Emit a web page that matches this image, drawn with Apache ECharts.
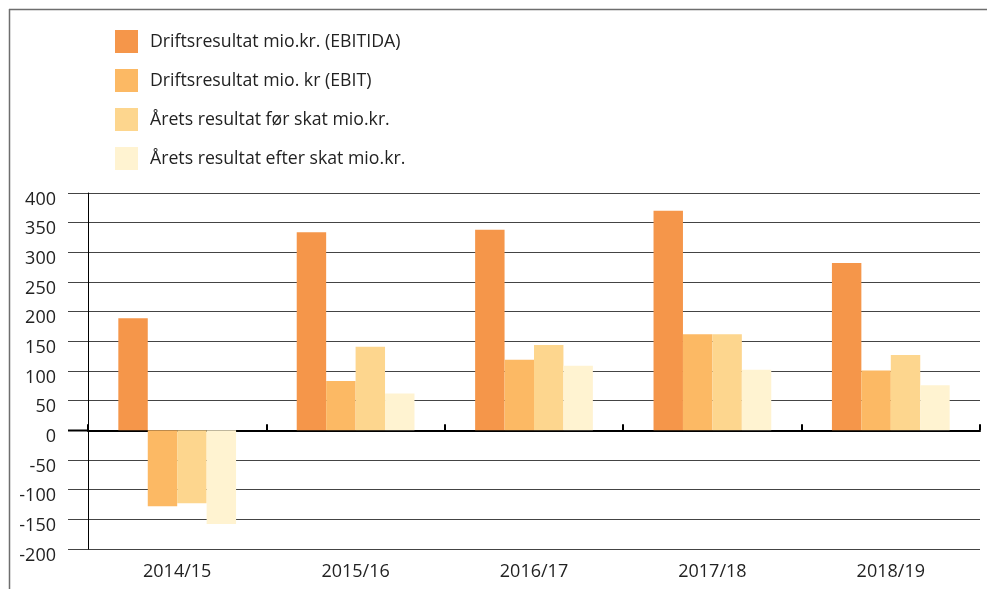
<!DOCTYPE html>
<html>
<head>
<meta charset="utf-8">
<script src="https://cdn.jsdelivr.net/npm/echarts@6/dist/echarts.min.js"></script>
<style>
html,body{margin:0;padding:0;background:#fff;}
#c{width:987px;height:589px;}
</style>
</head>
<body>
<div id="c"></div>
<script>
const categories = ['2014/15','2015/16','2016/17','2017/18','2018/19'];
const seriesNames = ['Driftsresultat mio.kr. (EBITIDA)','Driftsresultat mio. kr (EBIT)','Årets resultat før skat mio.kr.','Årets resultat efter skat mio.kr.'];
const ebitda = [189, 334, 338, 370, 282];
const ebit = [-128, 83, 119, 162, 101];
const foerSkat = [-123, 141, 144, 162, 127];
const efterSkat = [-158, 62, 109, 102, 76];
const colors = ['#F5964A','#FCB964','#FDD68E','#FFF3D1'];
const yTicks = {min:-200, max:400, interval:50};

const font = '"Open Sans", "Noto Sans", sans-serif';
const dataSets = [ebitda, ebit, foerSkat, efterSkat];
const chart = echarts.init(document.getElementById('c'), null, {renderer:'canvas'});
chart.setOption({
  animation:false,
  textStyle:{fontFamily:font},
  graphic:[
    {type:'line', shape:{x1:9,y1:9.5,x2:987,y2:9.5}, style:{stroke:'#6e6e6e', lineWidth:1.5}},
    {type:'line', shape:{x1:9.5,y1:9,x2:9.5,y2:589}, style:{stroke:'#6e6e6e', lineWidth:1.5}},
    {type:'line', shape:{x1:68,y1:430.5,x2:88,y2:430.5}, style:{stroke:'#000', lineWidth:2}, z:10}
  ],
  legend:{
    orient:'vertical', left:115, top:30, itemWidth:23, itemHeight:23, itemGap:16,
    padding:0,
    icon:'rect',
    textStyle:{fontSize:17.7, color:'#222', fontFamily:font, padding:[0,0,0,7]},
    data:seriesNames
  },
  grid:{left:88, right:7, top:193, bottom:40, containLabel:false},
  xAxis:[
    {type:'category', data:categories, position:'bottom',
     axisLine:{show:false, onZero:false}, axisTick:{show:false},
     axisLabel:{fontSize:18, color:'#222', margin:14, fontFamily:font}},
    {type:'category', data:categories, position:'bottom',
     axisLine:{show:true, onZero:true, lineStyle:{color:'#000', width:2}},
     axisTick:{show:true, inside:true, length:6, lineStyle:{color:'#000', width:2}},
     axisLabel:{show:false}}
  ],
  yAxis:{
    type:'value', min:yTicks.min, max:yTicks.max, interval:yTicks.interval,
    axisLine:{show:true, lineStyle:{color:'#000', width:1}},
    axisTick:{show:true, length:20, lineStyle:{color:'#444', width:1}},
    axisLabel:{
      color:'#222', margin:32, fontFamily:font, fontSize:18,
      formatter:(v)=> '{a|' + v + '}',
      rich:{
        a:{fontSize:18, color:'#222', fontFamily:font, padding:[13,0,0,0]}
      }
    },
    splitLine:{show:true, lineStyle:{color:'#444', width:1}}
  },
  series: dataSets.map((d,i)=>({
    name:seriesNames[i], type:'bar', data:d, xAxisIndex:0,
    barGap:'0%', barCategoryGap:'34%',
    itemStyle:{color:colors[i]}
  }))
});
</script>
</body>
</html>
